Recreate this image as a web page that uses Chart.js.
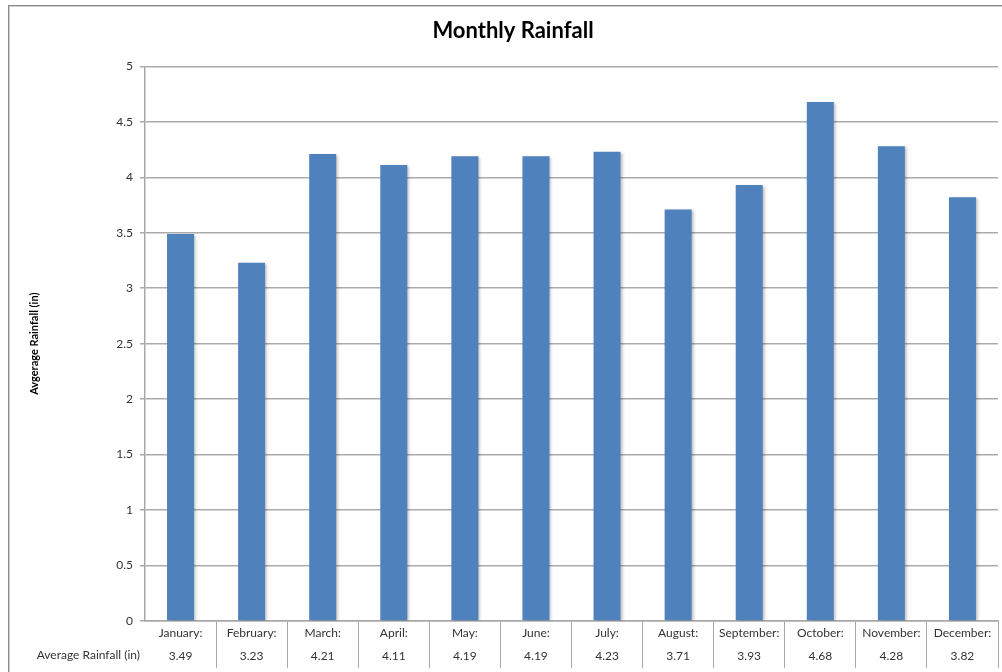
<!DOCTYPE html>
<html>
<head>
<meta charset="utf-8">
<script src="https://cdn.jsdelivr.net/npm/chart.js@4.4.1/dist/chart.umd.min.js"></script>
<style>
    html, body { margin:0; padding:0; background:#fff; }
    #wrap { position:relative; width:1002px; height:672px; overflow:hidden; }
    #frame {
        position:absolute; left:8px; top:5px; width:1000px; height:700px;
        border-left:1px solid #8a8a8a; border-top:1px solid #8a8a8a;
        box-shadow: inset 1px 1px 0 #d0d0d0;
    }
    canvas { position:absolute; left:0; top:0; }
</style>
</head>
<body>
<div id="wrap">
    <div id="frame"></div>
    <canvas id="rainChart" width="1002" height="672"></canvas>
</div>
<script>
// chart data
const months   = ["January", "February", "March", "April", "May", "June",
                  "July", "August", "September", "October", "November", "December"];
const rainfall = [3.49, 3.23, 4.21, 4.11, 4.19, 4.19, 4.23, 3.71, 3.93, 4.68, 4.28, 3.82];
const yTicks   = [0, 0.5, 1, 1.5, 2, 2.5, 3, 3.5, 4, 4.5, 5];

const seriesName = "Average Rainfall (in)";
const fontFam = "Lato, 'Open Sans', sans-serif";

// soft shadow on the right of each bar
const barShadow = {
    id: "barShadow",
    beforeDatasetsDraw(chart){
        const c = chart.ctx;
        c.save();
        c.shadowColor = "rgba(0,0,0,0.28)";
        c.shadowOffsetX = 2;
        c.shadowOffsetY = 1;
        c.shadowBlur = 3;
    },
    afterDatasetsDraw(chart){
        chart.ctx.restore();
    }
};

// row header of the data table
const tableHeader = {
    id: "tableHeader",
    afterDraw(chart){
        const c = chart.ctx;
        const x = chart.scales.x;
        c.save();
        c.font = `12px ${fontFam}`;
        c.fillStyle = "#333";
        c.textAlign = "right";
        c.textBaseline = "middle";
        c.fillText(seriesName, chart.chartArea.left - 5, x.top + 34);
        c.restore();
    }
};

new Chart(document.getElementById("rainChart"), {
    type: "bar",
    data: {
        labels: months.map((m, i) => [m + ":", rainfall[i].toFixed(2)]),
        datasets: [{
            label: seriesName,
            data: rainfall,
            backgroundColor: "#4f81bd",
            borderWidth: 0,
            barPercentage: 0.38,
            categoryPercentage: 1
        }]
    },
    options: {
        responsive: false,
        animation: false,
        layout: { padding: { left: 28, right: 4, top: 0, bottom: 0 } },
        plugins: {
            legend: { display: false },
            tooltip: { enabled: false },
            title: {
                display: true,
                text: "Monthly Rainfall",
                color: "#000",
                font: { family: fontFam, size: 22, weight: "bold" },
                padding: { top: 18, bottom: 22 }
            }
        },
        scales: {
            x: {
                offset: true,
                afterFit(scale){ scale.height = 51; },
                border: { display: true, color: "#a8a8a8", width: 1.5 },
                grid: {
                    offset: true,
                    drawOnChartArea: false,
                    tickLength: 47,
                    color: ctx => (ctx.index === 0 || ctx.index === months.length) ? "rgba(0,0,0,0)" : "#a8a8a8",
                    lineWidth: 1
                },
                ticks: {
                    padding: -46,
                    color: "#333",
                    autoSkip: false,
                    maxRotation: 0,
                    font: { family: fontFam, size: 12, lineHeight: 1.9 }
                }
            },
            y: {
                min: 0,
                max: 5,
                afterFit(scale){ scale.width = 117; },
                afterBuildTicks(scale){ scale.ticks = yTicks.map(v => ({ value: v })); },
                border: { display: true, color: "#a8a8a8", width: 1.5 },
                grid: { color: "#ababab", lineWidth: 1.5, tickLength: 5 },
                ticks: {
                    padding: 7,
                    color: "#333",
                    font: { family: fontFam, size: 12 },
                    callback: v => String(v)
                },
                title: {
                    display: true,
                    text: "Avgerage Rainfall (in)",
                    color: "#000",
                    font: { family: fontFam, size: 11, weight: "bold" },
                    padding: 0
                }
            }
        }
    },
    plugins: [barShadow, tableHeader]
});
</script>
</body>
</html>
